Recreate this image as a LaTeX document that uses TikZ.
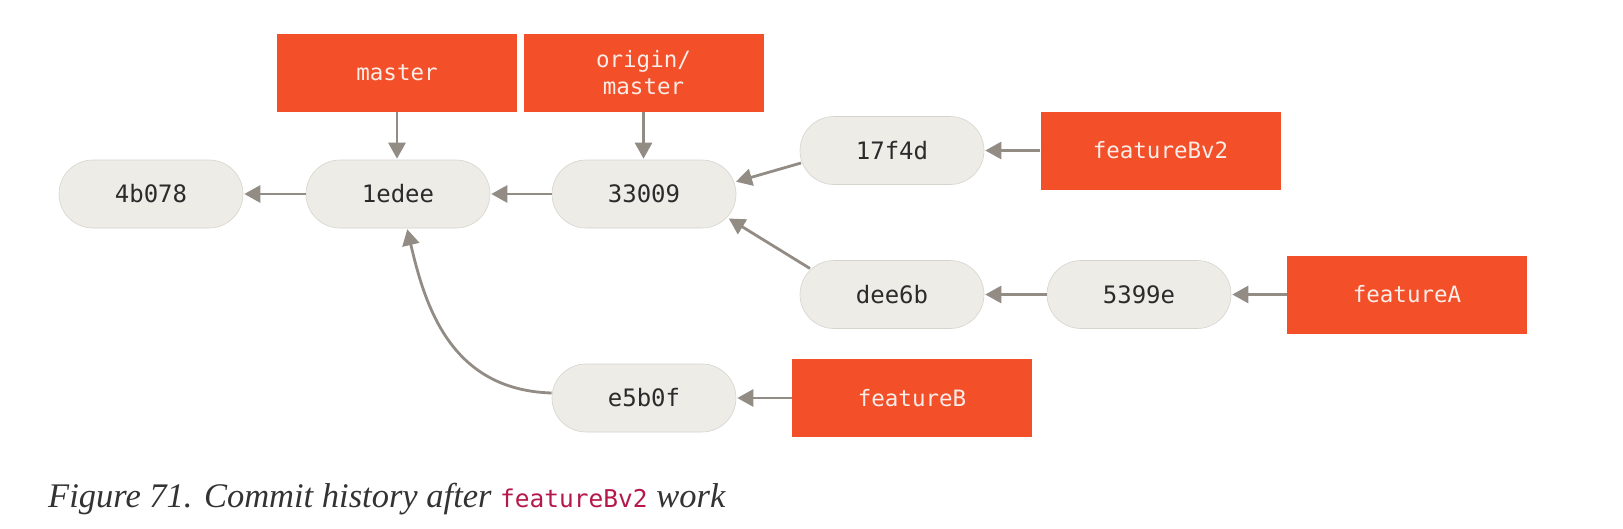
\documentclass[tikz,border=0pt]{standalone}
\usepackage{fontspec}
\setmainfont{Liberation Serif}
\newfontfamily\monofont{DejaVu Sans Mono}
\usetikzlibrary{arrows.meta,calc}
\definecolor{gitred}{HTML}{F34F29}
\definecolor{commitfill}{HTML}{EDECE6}
\definecolor{commitedge}{HTML}{D6D4CD}
\definecolor{arrowgray}{HTML}{928C85}
\definecolor{textdark}{HTML}{2B2B2B}
\definecolor{branchtext}{HTML}{FAEDE8}
\definecolor{captioncode}{HTML}{B5194B}
\definecolor{captiontext}{HTML}{333333}
\begin{document}
\begin{tikzpicture}[x=1pt,y=-1pt,
  commit/.style={draw=commitedge, line width=0.6pt, fill=commitfill, rounded corners=34pt,
    minimum width=184pt, minimum height=68pt, inner sep=0pt,
    font=\monofont\fontsize{24}{28}\selectfont, text=textdark},
  branch/.style={fill=gitred, minimum width=240pt, minimum height=78pt, inner sep=0pt,
    font=\monofont\fontsize{22.5}{27}\selectfont, text=branchtext, align=center},
  conn/.style={draw=arrowgray, line width=2.8pt, -{Triangle[length=16pt,width=17pt]}, shorten >=1pt}
]
\useasboundingbox[fill=white] (0,0) rectangle (1623,528);

% commits
\node[commit] (c4b078) at (151,194) {4b078};
\node[commit] (c1edee) at (398,194) {1edee};
\node[commit] (c33009) at (644,194) {33009};
\node[commit] (c17f4d) at (892,150.5) {17f4d};
\node[commit] (cdee6b) at (892,294.5) {dee6b};
\node[commit] (c5399e) at (1139,294.5) {5399e};
\node[commit] (ce5b0f) at (644,398) {e5b0f};

% branches
\node[branch] (bmaster) at (397,73) {master};
\node[branch] (borigin) at (643.5,73) {origin/\\master};
\node[branch] (bv2) at (1160.5,150.5) {featureBv2};
\node[branch] (bA) at (1407,294.5) {featureA};
\node[branch] (bB) at (912,398) {featureB};

% connectors
\draw[conn] (bmaster.south) -- (bmaster.south |- c1edee.north);
\draw[conn] (borigin.south) -- (borigin.south |- c33009.north);
\draw[conn] (c1edee) -- (c4b078);
\draw[conn] (c33009) -- (c1edee);
\draw[conn] (c5399e) -- (cdee6b);
\draw[conn] (bv2) -- (c17f4d);
\draw[conn] (bA) -- (c5399e);
\draw[conn] (bB) -- (ce5b0f);
\draw[conn] ($(c17f4d)+(-91,12.5)$) -- ($(c33009)+(91,-12)$);
\draw[conn] ($(cdee6b)+(-82,-26)$) -- ($(c33009)+(84,24)$);
\draw[conn] ($(ce5b0f.west)+(0,-5)$) .. controls (450,390) and (425,305) .. ($(c1edee.south)+(9,0)$);

% caption
\node[anchor=base west, inner sep=0pt, text=captiontext, font=\fontsize{34.5}{40}\selectfont\itshape] (cap) at (48,507)
  {Figure 71. Commit history after {\monofont\upshape\fontsize{24.5}{28}\selectfont\color{captioncode}featureBv2} work};
\end{tikzpicture}
\end{document}
